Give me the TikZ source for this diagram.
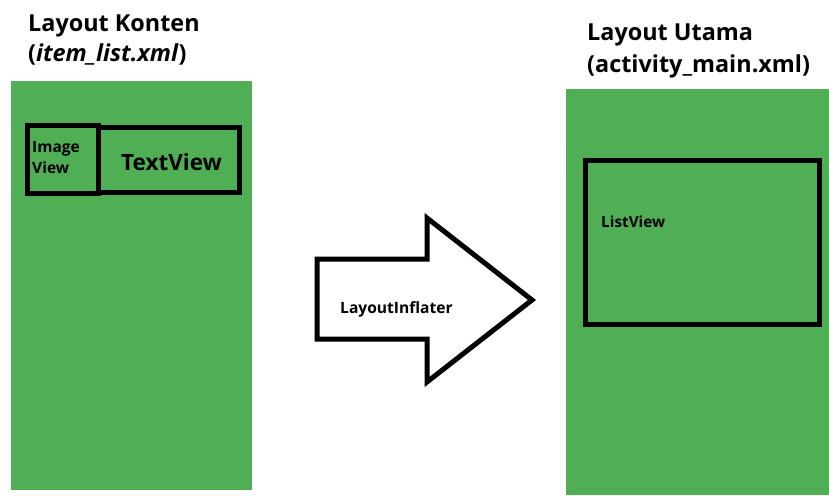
\documentclass[tikz,border=0pt]{standalone}
\usepackage{fontspec}
\setmainfont{Open Sans}
\definecolor{grn}{RGB}{80,174,84}
\tikzset{
  panel/.style={fill=grn, draw=none},
  box/.style={draw=black, line width=5pt, fill=none},
  title/.style={anchor=base west, inner sep=0pt, font=\fontsize{23.4}{28}\selectfont\bfseries},
  lbl/.style={inner sep=0pt, font=\fontsize{15.3}{20}\selectfont\bfseries}
}
\begin{document}
\begin{tikzpicture}[x=1pt,y=-1pt]
\useasboundingbox (0,0) rectangle (829,495);
% titles
\node[title] (t1) at (28,32) {Layout Konten};
\node[title] (t2) at (28,62) {(\textit{item\_list.xml})};
\node[title] (t3) at (587,41) {Layout Utama};
\node[title] (t4) at (587,72) {(activity\_main.xml)};
% panels
\fill[panel] (11,81) rectangle (252,490);
\fill[panel] (566,89) rectangle (829,495);
% item boxes
\draw[box] (27.5,125.5) rectangle (98,193);
\draw[box] (98,127.5) rectangle (239,192);
\node[lbl, align=left, anchor=north west, font=\fontsize{15.5}{21}\selectfont\bfseries] (iv) at (32,141) {Image\\View};
\node[lbl, font=\fontsize{22.5}{26}\selectfont\bfseries, anchor=base west] (tv) at (121,170) {TextView};
% list view
\draw[box] (585,160) rectangle (819,324);
\node[lbl, anchor=base west] (lv) at (601,227) {ListView};
% arrow
\coordinate (a1) at (317,259);
\coordinate (a2) at (427,259);
\coordinate (a3) at (427,218);
\coordinate (a4) at (532,300);
\coordinate (a5) at (427,382);
\coordinate (a6) at (427,339);
\coordinate (a7) at (317,339);
\draw[line width=5pt, fill=white, line join=miter] (a1) -- (a2) -- (a3) -- (a4) -- (a5) -- (a6) -- (a7) -- cycle;
\node[lbl, anchor=base west, font=\fontsize{15.6}{20}\selectfont\bfseries] (li) at (340,313) {LayoutInflater};
\end{tikzpicture}
\end{document}
